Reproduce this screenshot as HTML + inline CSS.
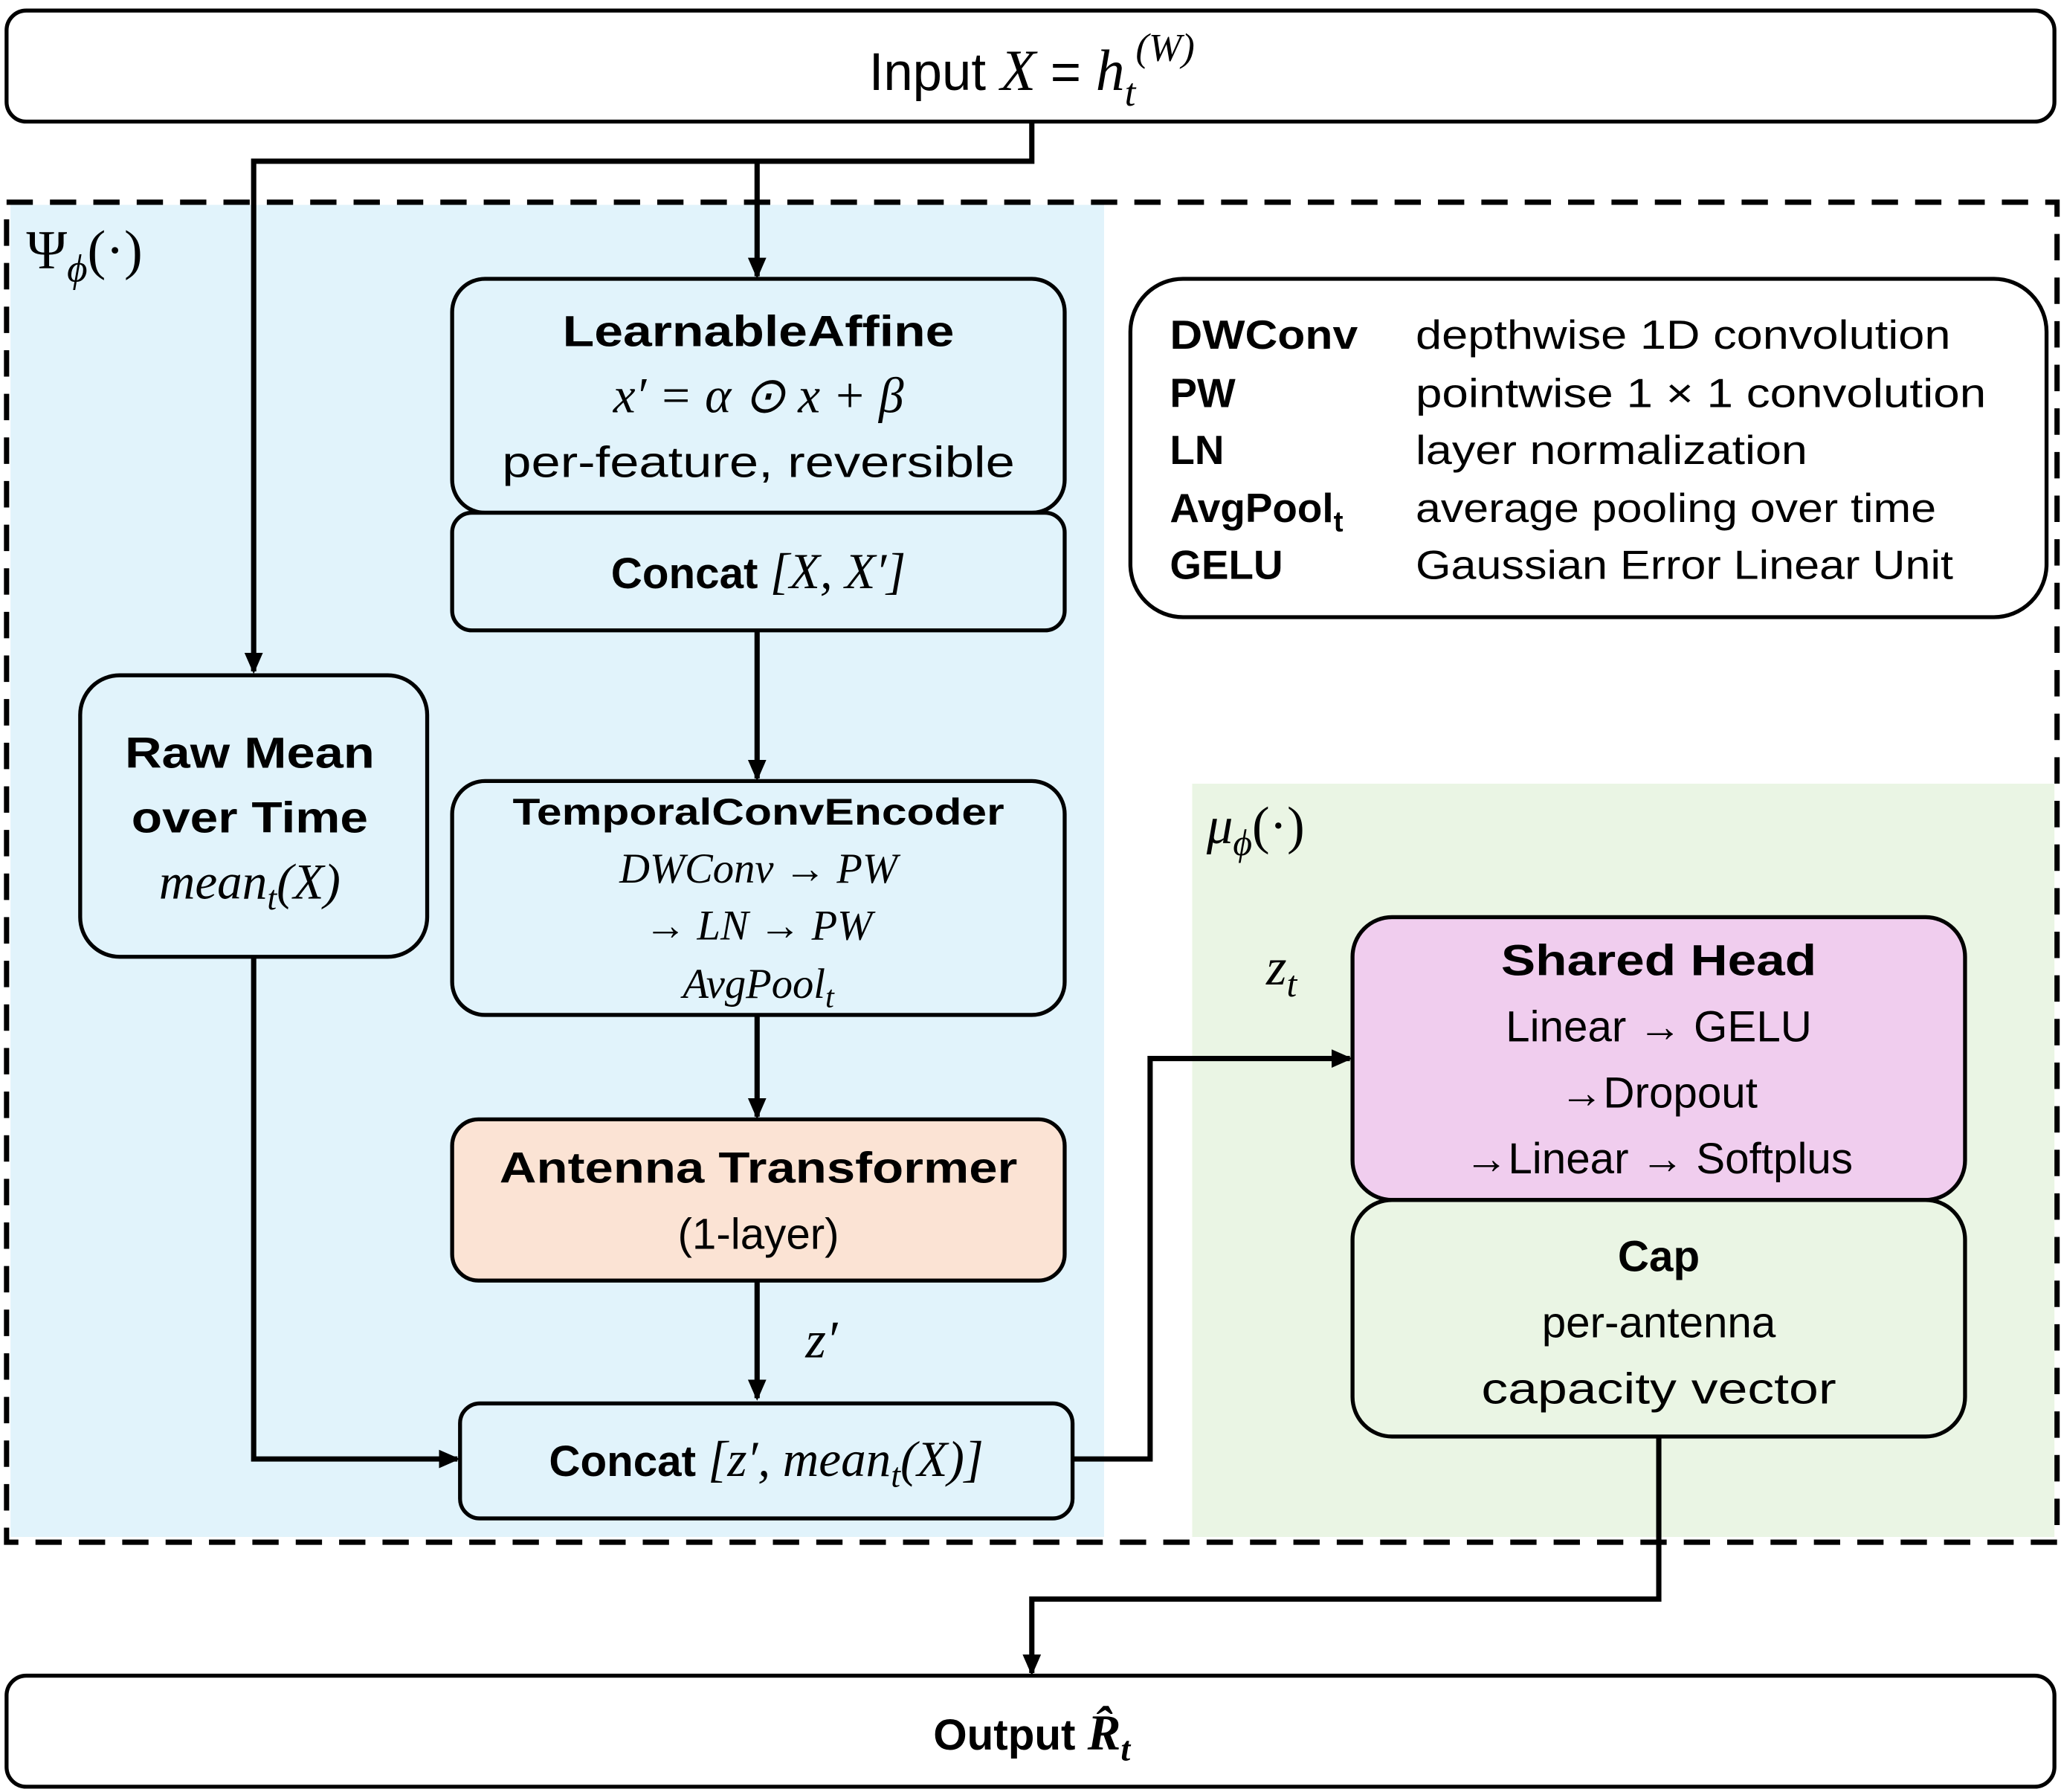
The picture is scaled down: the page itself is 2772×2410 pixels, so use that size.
<!DOCTYPE html>
<html><head><style>html,body{margin:0;padding:0;background:#fff}svg{display:block}
.t{font-family:"Liberation Sans",sans-serif;fill:#000}
.b{font-weight:bold}
.m{font-family:"Liberation Serif",serif;font-style:italic}
</style></head><body>
<svg width="2772" height="2410" viewBox="0 0 1568 1356" preserveAspectRatio="none" xmlns="http://www.w3.org/2000/svg">
<defs><marker id="ah" markerWidth="16" markerHeight="16" refX="14" refY="8" orient="auto" markerUnits="userSpaceOnUse" viewBox="0 0 16 16"><path d="M0,1 L16,8 L0,15z" fill="#000"/></marker></defs>
<rect x="8" y="155" width="832" height="1008" fill="#e1f3fb"/>
<rect x="907" y="593" width="656" height="570" fill="#eaf5e4"/>
<rect x="5" y="153" width="1560" height="1014" fill="none" stroke="#000" stroke-width="4" stroke-dasharray="20,13"/>
<rect x="5" y="8" width="1558" height="84" rx="15" fill="#fff" stroke="#000" stroke-width="3"/>
<text x="785" y="68" text-anchor="middle" font-size="40" class="t">Input <tspan class="m" font-size="44">X</tspan> = <tspan class="m" font-size="44">h</tspan><tspan class="m" font-size="30" dy="12">t</tspan><tspan font-size="30" dy="-34" class="m">(W)</tspan></text>
<g stroke="#000" stroke-width="4" fill="none">
<path d="M785,92 V122 H193 V508" marker-end="url(#ah)"/>
<path d="M576,122 V209" marker-end="url(#ah)"/>
<path d="M576,477 V589" marker-end="url(#ah)"/>
<path d="M576,768 V845" marker-end="url(#ah)"/>
<path d="M576,969 V1058" marker-end="url(#ah)"/>
<path d="M193,724 V1104 H348" marker-end="url(#ah)"/>
<path d="M816,1104 H875 V801 H1027" marker-end="url(#ah)"/>
<path d="M1262,1087 V1210 H785 V1266" marker-end="url(#ah)"/>
</g>
<text x="20" y="203" font-size="42" class="t" style="font-family:'Liberation Serif',serif">Ψ<tspan font-size="30" dy="10" font-style="italic">ϕ</tspan><tspan dy="-10">(·)</tspan></text>
<g stroke="#000" stroke-width="3">
<rect x="344" y="211" width="466" height="177" rx="25" fill="#e1f3fb"/>
<rect x="344" y="388" width="466" height="89" rx="15" fill="#e1f3fb"/>
<rect x="61" y="511" width="264" height="213" rx="30" fill="#e1f3fb"/>
<rect x="344" y="591" width="466" height="177" rx="25" fill="#e1f3fb"/>
<rect x="344" y="847" width="466" height="122" rx="20" fill="#fbe3d4"/>
<rect x="350" y="1062" width="466" height="87" rx="15" fill="#e1f3fb"/>
<rect x="1029" y="694" width="466" height="214" rx="30" fill="#f0cdee"/>
<rect x="1029" y="908" width="466" height="179" rx="30" fill="#eaf5e4"/>
<rect x="860" y="211" width="697" height="256" rx="40" fill="#fff"/>
<rect x="5" y="1268" width="1558" height="84" rx="15" fill="#fff"/>
</g>
<g class="t" font-size="33" text-anchor="middle">
<text x="577" y="262" class="b" textLength="298" lengthAdjust="spacingAndGlyphs">LearnableAffine</text>
<text x="577" y="312" class="m" font-size="38">x′ = α ⊙ x + β</text>
<text x="577" y="361" textLength="390" lengthAdjust="spacingAndGlyphs">per-feature, reversible</text>
<text x="577" y="445"><tspan class="b">Concat</tspan> <tspan class="m" font-size="38">[X, X′]</tspan></text>
<text x="190" y="581" class="b" textLength="190" lengthAdjust="spacingAndGlyphs">Raw Mean</text>
<text x="190" y="630" class="b" textLength="180" lengthAdjust="spacingAndGlyphs">over Time</text>
<text x="190" y="680" class="m" font-size="38">mean<tspan font-size="26" dy="8">t</tspan><tspan dy="-8">(X)</tspan></text>
<text x="577" y="624" class="b" font-size="28" textLength="374" lengthAdjust="spacingAndGlyphs">TemporalConvEncoder</text>
<text x="577" y="668" class="m" font-size="32">DWConv  →  PW</text>
<text x="577" y="711" class="m" font-size="32">→  LN  →  PW</text>
<text x="577" y="755" class="m" font-size="32">AvgPool<tspan font-size="24" dy="7">t</tspan></text>
<text x="577" y="895" class="b" textLength="394" lengthAdjust="spacingAndGlyphs">Antenna Transformer</text>
<text x="577" y="945">(1-layer)</text>
<text x="625" y="1027" class="m" font-size="40">z′</text>
<text x="583" y="1117"><tspan class="b">Concat</tspan> <tspan class="m" font-size="38">[z′, mean</tspan><tspan class="m" font-size="26" dy="8">t</tspan><tspan class="m" font-size="38" dy="-8">(X)]</tspan></text>
<text x="975" y="745" class="m" font-size="40">z<tspan font-size="28" dy="9">t</tspan></text>
<text x="1262" y="738" class="b" textLength="240" lengthAdjust="spacingAndGlyphs">Shared Head</text>
<text x="1262" y="788">Linear → GELU</text>
<text x="1262" y="838">→Dropout</text>
<text x="1262" y="888">→Linear → Softplus</text>
<text x="1262" y="962" class="b">Cap</text>
<text x="1262" y="1012">per-antenna</text>
<text x="1262" y="1062" textLength="270" lengthAdjust="spacingAndGlyphs">capacity vector</text>
<text x="785" y="1324"><tspan class="b">Output </tspan><tspan class="m b" font-size="38">R̂</tspan><tspan class="m b" font-size="26" dy="8">t</tspan></text>
</g>
<text x="918" y="638" class="t m" font-size="40">μ<tspan font-size="28" dy="9">ϕ</tspan><tspan dy="-9" font-style="normal">(·)</tspan></text>
<g class="t" font-size="31">
<text x="890" y="264" class="b" textLength="143" lengthAdjust="spacingAndGlyphs">DWConv</text><text x="1077" y="264" textLength="407" lengthAdjust="spacingAndGlyphs">depthwise 1D convolution</text>
<text x="890" y="308" class="b">PW</text><text x="1077" y="308" textLength="434" lengthAdjust="spacingAndGlyphs">pointwise 1 × 1 convolution</text>
<text x="890" y="351" class="b">LN</text><text x="1077" y="351" textLength="298" lengthAdjust="spacingAndGlyphs">layer normalization</text>
<text x="890" y="395" class="b">AvgPool<tspan font-size="22" dy="7">t</tspan></text><text x="1077" y="395" textLength="396" lengthAdjust="spacingAndGlyphs">average pooling over time</text>
<text x="890" y="438" class="b">GELU</text><text x="1077" y="438" textLength="409" lengthAdjust="spacingAndGlyphs">Gaussian Error Linear Unit</text>
</g>
</svg>
</body></html>
